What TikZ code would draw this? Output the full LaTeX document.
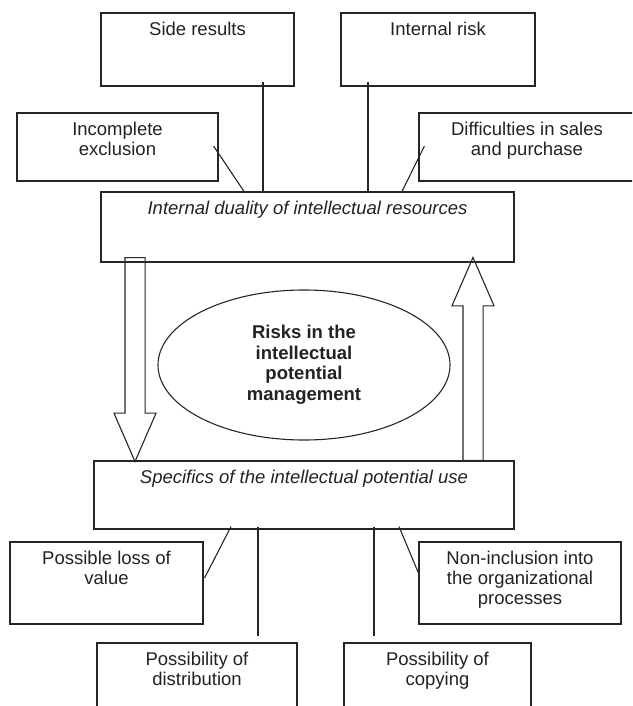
\documentclass[tikz,border=0pt]{standalone}
\usepackage{fontspec}
\setmainfont{Liberation Sans}
\usepackage{tikz}
\usetikzlibrary{shapes.geometric,shapes.arrows}
\definecolor{ink}{HTML}{262626}
\definecolor{tx}{HTML}{222222}

\begin{document}
\begin{tikzpicture}[x=1pt,y=-1pt,
 riskbox/.style={draw=ink,line width=1.1pt,inner sep=0pt},
 boxtext/.style={anchor=north,align=center,inner sep=9.3pt,text=tx,
 font=\fontsize{18.5}{20}\selectfont},
 hub/.style={draw=ink,line width=1.1pt,ellipse,inner sep=0pt,align=center,
 minimum width=292pt,minimum height=150pt,text=tx,
 font=\fontsize{18.5}{20.5}\selectfont\bfseries},
 flow/.style={draw=ink,line width=1.1pt,single arrow,inner sep=9.5pt,anchor=tail,
 minimum height=204pt,single arrow head extend=11pt,single arrow tip angle=47},
 link/.style={draw=ink,line width=1.1pt}]
 \useasboundingbox (0,0) rectangle (632,706);
 \clip (0,0) rectangle (632,706);
 % upper group
 \node[riskbox,minimum width=193pt,minimum height=73pt,
 label={[boxtext]north:Side results}] (side) at (197.5,49.5) {};
 \node[riskbox,minimum width=194pt,minimum height=73pt,
 label={[boxtext]north:Internal risk}] (intrisk) at (438,49.5) {};
 \node[riskbox,minimum width=201pt,minimum height=68pt,
 label={[boxtext]north:{Incomplete\\exclusion}}] (incompl) at (117.5,147) {};
 \node[riskbox,minimum width=216pt,minimum height=68pt,
 label={[boxtext]north:{Difficulties in sales\\and purchase}}] (diffic) at (527,147) {};
 \node[riskbox,minimum width=413pt,minimum height=70pt,
 label={[boxtext,font=\fontsize{18.5}{20}\selectfont\itshape]north:Internal duality of intellectual resources}] (duality) at (307.5,227) {};
 % centre
 \node[hub] (risks) at (304,365) {Risks in the\\intellectual\\potential\\management};
 \node[flow,shape border rotate=270] (down) at (135,257) {};
 \node[flow,shape border rotate=90,minimum height=203pt] (up) at (473,461) {};
 % lower group
 \node[riskbox,minimum width=420pt,minimum height=68pt,
 label={[boxtext,font=\fontsize{18.5}{20}\selectfont\itshape]north:Specifics of the intellectual potential use}] (specif) at (304,495) {};
 \node[riskbox,minimum width=193pt,minimum height=82pt,
 label={[boxtext]north:{Possible loss of\\value}}] (loss) at (106.5,583) {};
 \node[riskbox,minimum width=202pt,minimum height=82pt,
 label={[boxtext]north:{Non-inclusion into\\the organizational\\processes}}] (noninc) at (520,583) {};
 \node[riskbox,minimum width=200pt,minimum height=82pt,
 label={[boxtext]north:{Possibility of\\distribution}}] (distr) at (197,684) {};
 \node[riskbox,minimum width=187pt,minimum height=82pt,
 label={[boxtext]north:{Possibility of\\copying}}] (copy) at (437.5,684) {};
 % connectors
 \draw[link] ([xshift=65.5pt,yshift=5pt]side.south)--([xshift=-44.5pt]duality.north);
 \draw[link] ([xshift=-70pt,yshift=5pt]intrisk.south)--([xshift=60.5pt]duality.north);
 \draw[link] ([xshift=-5pt,yshift=1pt]incompl.east)--([xshift=-63.5pt]duality.north);
 \draw[link] ([xshift=6pt,yshift=1pt]diffic.west)--([xshift=94.5pt]duality.north);
 \draw[link] ([xshift=-73pt,yshift=3pt]specif.south)--([xshift=1pt,yshift=5pt]loss.east);
 \draw[link] ([xshift=-46pt,yshift=3pt]specif.south)--([xshift=61pt,yshift=6pt]distr.north);
 \draw[link] ([xshift=70pt,yshift=3pt]specif.south)--([xshift=-63.5pt,yshift=6pt]copy.north);
 \draw[link] ([xshift=95pt,yshift=3pt]specif.south)--([yshift=10pt]noninc.west);
\end{tikzpicture}
\end{document}
